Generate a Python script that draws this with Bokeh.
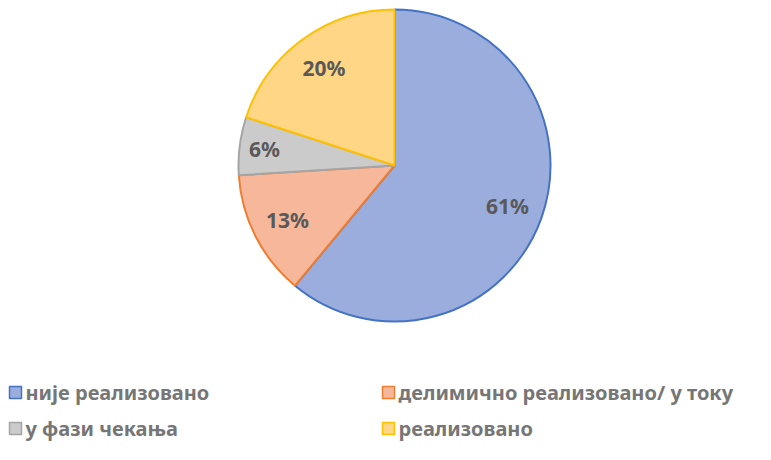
import math
from bokeh.plotting import figure
from bokeh.models import Range1d, ColumnDataSource
from bokeh.core.properties import value
from bokeh.embed import file_html
from bokeh.resources import INLINE

categories = ["није реализовано", "делимично реализовано/ у току", "у фази чекања", "реализовано"]
shares = [61, 13, 6, 20]
labels = ["61%", "13%", "6%", "20%"]
fill_colors = ["#9AADDC", "#F6B79A", "#CBCBCB", "#FFD685"]
line_colors = ["#4472C4", "#ED7D31", "#A5A5A5", "#FFC000"]
label_radius_frac = [0.77, 0.77, 0.84, 0.77]

W, H = 755, 444
p = figure(width=W, height=H, output_backend="svg", toolbar_location=None,
           x_range=Range1d(0, W), y_range=Range1d(0, H), min_border=0)
p.axis.visible = False
p.grid.visible = False
p.outline_line_color = None

cx, cy, r = 394, H - 165, 156
total = sum(shares)
starts, ends, lx, ly = [], [], [], []
acc = 0.0
for s, f in zip(shares, label_radius_frac):
    a0 = math.pi / 2 - 2 * math.pi * acc / total
    a1 = math.pi / 2 - 2 * math.pi * (acc + s) / total
    starts.append(a0)
    ends.append(a1)
    mid = (a0 + a1) / 2
    lx.append(cx + f * r * math.cos(mid))
    ly.append(cy + f * r * math.sin(mid))
    acc += s

src = ColumnDataSource(dict(start=starts, end=ends, fill=fill_colors, line=line_colors,
                            lx=lx, ly=ly, label=labels))
p.wedge(x=cx, y=cy, radius=r, start_angle="start", end_angle="end", direction="clock",
        fill_color="fill", line_color="line", line_width=2, source=src)
p.text(x="lx", y="ly", text="label", source=src, text_font=value("Noto Sans"),
       text_font_style="bold", text_font_size="21px", text_color="#595959",
       text_align="center", text_baseline="middle")

# legend
leg_x = [15, 388, 15, 388]
leg_y = [H - 392, H - 392, H - 428, H - 428]
lsrc = ColumnDataSource(dict(x=leg_x, y=leg_y, tx=[x + 10 for x in leg_x], name=categories,
                             fill=fill_colors, line=line_colors))
p.rect(x="x", y="y", width=12, height=12, fill_color="fill", line_color="line",
       line_width=1.5, source=lsrc)
p.text(x="tx", y="y", text="name", source=lsrc, text_font=value("Noto Sans"),
       text_font_style="bold", text_font_size="20px", text_color="#767676",
       text_align="left", text_baseline="middle")

open("out.html", "w").write(file_html(p, INLINE))
